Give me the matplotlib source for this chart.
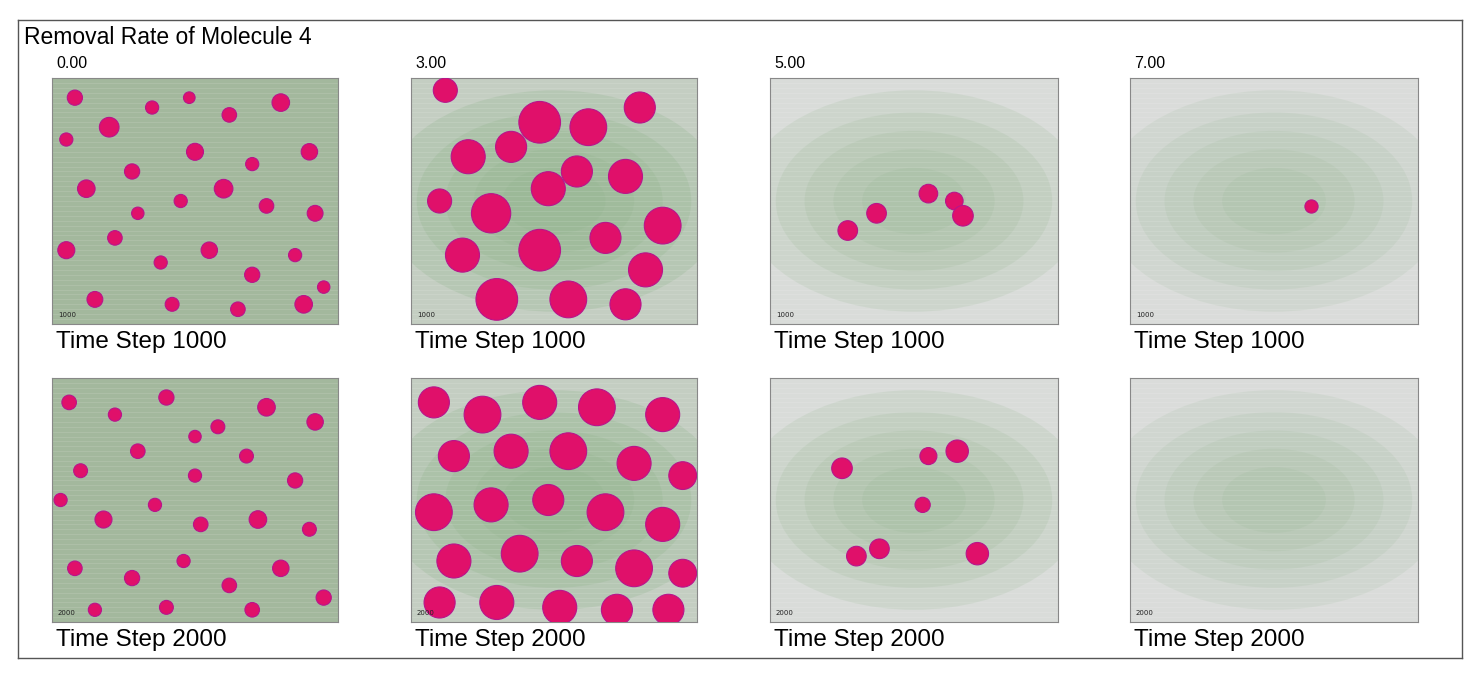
import matplotlib
matplotlib.use("Agg")
import matplotlib.pyplot as plt
from matplotlib.patches import Ellipse

W, H = 1474, 674

rates = ["0.00", "3.00", "5.00", "7.00"]
steps = [1000, 2000]

# panel backgrounds and green cloud strength (0..1), per rate
bg_colors = ["#a3b89d", "#c4cec2", "#d9dcd9", "#dadcda"]
cloud_alpha = [0.0, 0.9, 0.55, 0.45]

# magenta clusters per (rate, step): (x %, y %, size)
clusters = {
    ("0.00", 1000): [(8, 92, 120), (20, 80, 200), (35, 88, 90), (50, 70, 150), (62, 85, 110), (80, 90, 160),
                     (90, 70, 140), (12, 55, 160), (28, 62, 120), (45, 50, 90), (60, 55, 180), (75, 48, 110),
                     (92, 45, 130), (5, 30, 150), (22, 35, 110), (38, 25, 90), (55, 30, 140), (70, 20, 120),
                     (85, 28, 90), (15, 10, 130), (42, 8, 100), (65, 6, 110), (88, 8, 160), (30, 45, 80),
                     (48, 92, 70), (70, 65, 90), (5, 75, 90), (95, 15, 80)],
    ("0.00", 2000): [(6, 90, 110), (22, 85, 90), (40, 92, 120), (58, 80, 100), (75, 88, 160), (92, 82, 140),
                     (10, 62, 100), (30, 70, 110), (50, 60, 90), (68, 68, 100), (85, 58, 120), (18, 42, 150),
                     (36, 48, 90), (52, 40, 110), (72, 42, 160), (90, 38, 100), (8, 22, 110), (28, 18, 120),
                     (46, 25, 90), (62, 15, 110), (80, 22, 140), (95, 10, 120), (15, 5, 90), (40, 6, 100),
                     (70, 5, 110), (50, 76, 80), (3, 50, 90)],
    ("3.00", 1000): [(12, 95, 300), (45, 82, 900), (62, 80, 700), (80, 88, 500), (20, 68, 600), (35, 72, 500),
                     (28, 45, 800), (48, 55, 600), (58, 62, 500), (75, 60, 600), (88, 40, 700), (18, 28, 600),
                     (45, 30, 900), (68, 35, 500), (82, 22, 600), (30, 10, 900), (55, 10, 700), (75, 8, 500),
                     (10, 50, 300)],
    ("3.00", 2000): [(8, 90, 500), (25, 85, 700), (45, 90, 600), (65, 88, 700), (88, 85, 600), (15, 68, 500),
                     (35, 70, 600), (55, 70, 700), (78, 65, 600), (95, 60, 400), (8, 45, 700), (28, 48, 600),
                     (48, 50, 500), (68, 45, 700), (88, 40, 600), (15, 25, 600), (38, 28, 700), (58, 25, 500),
                     (78, 22, 700), (95, 20, 400), (10, 8, 500), (30, 8, 600), (52, 6, 600), (72, 5, 500),
                     (90, 5, 500)],
    ("5.00", 1000): [(27, 38, 200), (37, 45, 200), (55, 53, 180), (64, 50, 160), (67, 44, 220)],
    ("5.00", 2000): [(25, 63, 220), (55, 68, 150), (65, 70, 260), (53, 48, 120), (30, 27, 200), (38, 30, 200),
                     (72, 28, 260)],
    ("7.00", 1000): [(63, 48, 90)],
    ("7.00", 2000): [],
}

# pixel boxes of the panels: left, top, right, bottom
col_x = [(52, 338), (411, 697), (770, 1058), (1130, 1418)]
row_y = [(78, 324), (378, 622)]

fig = plt.figure(figsize=(W / 100, H / 100), dpi=100)
fig.patch.set_facecolor("white")

# outer frame
frame = fig.add_axes([18 / W, 1 - 658 / H, (1462 - 18) / W, (658 - 20) / H])
frame.set_xticks([])
frame.set_yticks([])
for s in frame.spines.values():
    s.set_color("#555555")
    s.set_linewidth(1)
frame.patch.set_alpha(0)

fig.text(24 / W, 1 - 38 / H, "Removal Rate of Molecule 4", fontsize=16.5, va="center", family="Liberation Sans")

for ci, rate in enumerate(rates):
    x0, x1 = col_x[ci]
    fig.text((x0 + 4) / W, 1 - 64 / H, rate, fontsize=11.5, va="center", family="Liberation Sans")
    for ri, step in enumerate(steps):
        y0, y1 = row_y[ri]
        ax = fig.add_axes([x0 / W, 1 - y1 / H, (x1 - x0) / W, (y1 - y0) / H])
        ax.set_xlim(0, 100)
        ax.set_ylim(0, 100)
        ax.set_xticks([])
        ax.set_yticks([])
        for s in ax.spines.values():
            s.set_color("#888888")
        ax.set_facecolor(bg_colors[ci])
        # green cloud
        a = cloud_alpha[ci]
        if a > 0:
            for scale in [1.5, 1.2, 0.95, 0.7, 0.45]:
                ax.add_patch(Ellipse((50, 50), 80 * scale, 60 * scale, color="#93b68f",
                                     alpha=a * 0.3, lw=0))
        # faint lattice texture
        for v in range(0, 101, 2):
            ax.axhline(v, color="white", lw=0.4, alpha=0.2)
        pts = clusters[(rate, step)]
        if pts:
            xs = [p[0] for p in pts]
            ys = [p[1] for p in pts]
            ss = [p[2] for p in pts]
            ax.scatter(xs, ys, s=ss, marker="o", color="#e0106a", edgecolors="#b8148c",
                       linewidths=0.8, zorder=3)
        ax.text(2, 3, str(step), fontsize=5, color="#222222")
        fig.text((x0 + 4) / W, 1 - (y1 + 18) / H, f"Time Step {step}", fontsize=17.5,
                 va="center", family="Liberation Sans")

fig.savefig("out.png", dpi=100)
